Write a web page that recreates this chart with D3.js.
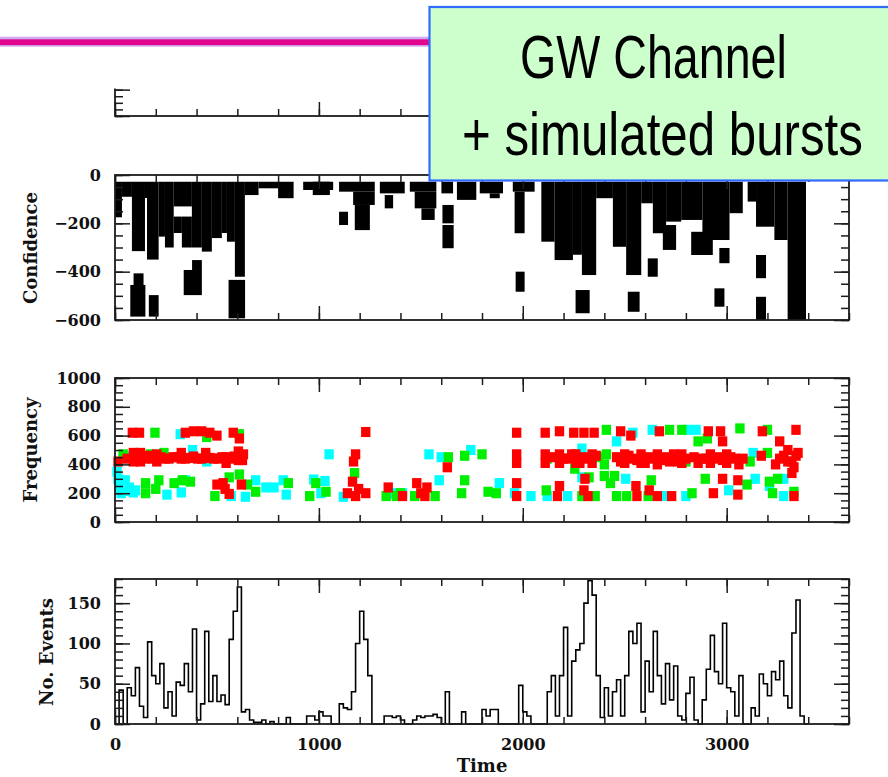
<!DOCTYPE html>
<html>
<head>
<meta charset="utf-8">
<script src="https://cdn.jsdelivr.net/npm/d3@7"></script>
<style>
  body { margin: 0; background: #fff; }
  svg { display: block; }
  .tick text { font-family: 'DejaVu Serif', serif; font-weight: bold; font-size: 16px; fill: #111; }
  .title { font-family: 'DejaVu Serif', serif; font-weight: bold; font-size: 18px; fill: #111; }
  .slide { font-family: 'Liberation Sans', Arial, sans-serif; font-size: 62px; fill: #000; }
</style>
</head>
<body>
<div id="chart"></div>
<script>
// ---- data ----
const timeLabels = [0, 1000, 2000, 3000];
const confLabels = [0, -200, -400, -600];
const freqLabels = [0, 200, 400, 600, 800, 1000];
const eventLabels = [0, 50, 100, 150];
const slideLines = ['GW Channel', '+ simulated bursts'];
const axisTitles = ['Confidence', 'Frequency', 'No. Events', 'Time'];

// confidence clusters: [time start, time end, conf top, conf bottom]
const confBlocks = [
  [0, 34, -28, -175], [34, 83, -28, -90], [83, 147, -28, -315], [147, 157, -28, -95],
  [157, 214, -28, -350], [214, 245, -28, -255], [245, 288, -28, -300], [288, 377, -28, -130],
  [288, 328, -172, -240], [328, 377, -172, -300], [377, 426, -28, -300], [426, 475, -28, -317],
  [475, 524, -28, -261], [524, 549, -28, -240], [549, 588, -28, -276], [588, 637, -28, -421],
  [637, 704, -28, -83], [704, 802, -28, -55], [800, 876, -28, -96],
  [91, 140, -407, -572], [75, 149, -455, -586], [166, 214, -497, -586],
  [378, 426, -352, -393], [337, 426, -393, -497], [557, 638, -434, -593],
  [923, 1070, -28, -62], [970, 1054, -28, -83],
  [1099, 1274, -28, -69], [1168, 1274, -69, -124], [1176, 1250, -124, -228], [1099, 1143, -152, -207],
  [1299, 1421, -28, -76], [1323, 1364, -83, -138],
  [1446, 1576, -28, -69], [1470, 1576, -69, -138], [1503, 1568, -138, -186],
  [1601, 1658, -28, -76], [1606, 1661, -124, -200], [1606, 1661, -207, -303],
  [1677, 1772, -28, -103], [1789, 1903, -28, -76], [1838, 1887, -76, -96],
  [1951, 2058, -28, -69], [1960, 2009, -69, -241], [1965, 2009, -400, -483],
  [2091, 2156, -28, -276], [2156, 2246, -28, -352], [2246, 2290, -28, -330], [2290, 2360, -28, -414],
  [2360, 2442, -28, -96], [2442, 2507, -28, -297], [2507, 2581, -28, -414], [2581, 2638, -28, -117],
  [2638, 2703, -28, -241], [2703, 2777, -28, -193], [2777, 2881, -28, -186], [2881, 3014, -28, -269],
  [3014, 3079, -28, -158], [3103, 3144, -28, -110], [3144, 3234, -28, -214], [3234, 3299, -28, -269],
  [3299, 3389, -28, -600],
  [2259, 2328, -476, -572], [2515, 2573, -483, -566], [2613, 2662, -345, -421], [2687, 2752, -207, -310],
  [2826, 2932, -235, -331], [2964, 3014, -302, -365], [2940, 2989, -469, -545],
  [3144, 3193, -331, -427], [3144, 3193, -504, -600]
];

// frequency tiles: [time, frequency]
const cyanTiles = [
  [15, 300], [50, 290], [20, 240], [55, 215], [90, 205], [30, 200], [70, 240], [100, 220],
  [10, 350], [40, 440], [80, 460], [320, 610],
  [255, 190], [325, 205], [345, 290], [380, 500], [450, 420], [570, 180], [640, 175], [690, 290],
  [740, 240], [780, 240], [825, 290], [840, 190], [975, 295], [1030, 285], [1050, 470], [1010, 200],
  [1120, 175], [1370, 200], [1410, 200], [1540, 470], [1590, 290], [1600, 450], [1745, 500],
  [1885, 270], [1960, 200], [2040, 180], [2120, 180], [2220, 180], [2290, 510], [2290, 310],
  [2460, 560], [2505, 300], [2540, 620], [2635, 640], [2700, 440], [2700, 180], [2800, 180],
  [2810, 640], [2850, 640], [2920, 440], [3010, 220], [3130, 480], [3140, 300], [3210, 250],
  [3280, 300], [3280, 180]
];
const greenTiles = [
  [40, 470], [196, 620], [150, 200], [150, 270], [200, 230], [215, 290], [175, 470], [240, 480],
  [290, 270], [330, 290], [370, 280], [450, 590], [610, 610], [490, 180], [560, 310], [610, 330],
  [650, 260], [690, 210], [850, 270], [955, 180], [985, 270], [1035, 210], [1175, 340], [1330, 180],
  [1380, 180], [1400, 200], [1470, 180], [1570, 180], [1635, 450], [1700, 200], [1715, 290],
  [1715, 460], [1800, 470], [1830, 210], [1870, 200], [2115, 220], [2120, 440], [2255, 370],
  [2290, 180], [2325, 310], [2355, 180], [2370, 450], [2400, 400], [2400, 320], [2410, 470],
  [2410, 640], [2430, 270], [2450, 320], [2460, 180],
  [2510, 180], [2615, 180], [2630, 290], [2720, 640], [2780, 640], [2800, 420], [2830, 200],
  [2860, 560], [2895, 300], [2905, 580], [3065, 650], [3100, 260], [3115, 420], [3200, 640],
  [3200, 480], [3210, 280], [3225, 200], [3250, 300], [3330, 210]
];
const redTiles = [
  [15, 420], [85, 620], [120, 620], [90, 480], [125, 480], [90, 420], [125, 420], [60, 440],
  [105, 450], [145, 440], [185, 440], [225, 450], [265, 440], [305, 450], [345, 440], [385, 455],
  [425, 440], [465, 445], [505, 440], [545, 450], [585, 455], [625, 430],
  [165, 460], [205, 470], [205, 420], [245, 440], [285, 450], [325, 440], [365, 445], [405, 440],
  [445, 450], [485, 440], [525, 450], [565, 440], [605, 430], [630, 470], [605, 490], [325, 480],
  [445, 480], [545, 410], [345, 620], [385, 630], [425, 630], [465, 620], [500, 600], [580, 620],
  [610, 580], [500, 260], [530, 270], [540, 230], [620, 260], [560, 195],
  [1140, 200], [1165, 280], [1170, 420], [1180, 470], [1180, 180], [1195, 230], [1230, 625],
  [1230, 200], [1340, 240], [1410, 180], [1480, 270], [1500, 200], [1530, 240], [1520, 180],
  [1630, 380], [1970, 620], [1970, 470], [1970, 410], [1970, 270], [1970, 180],
  [2110, 620], [2110, 470], [2110, 410], [2180, 630], [2180, 250], [2170, 180],
  [2140, 450], [2200, 440], [2240, 470], [2280, 410], [2320, 440], [2360, 460],
  [2180, 470], [2180, 410], [2220, 440], [2260, 470], [2260, 410], [2300, 450], [2340, 470],
  [2340, 410], [2250, 620], [2300, 620], [2350, 620], [2305, 300], [2300, 220], [2320, 180],
  [2460, 450], [2500, 470], [2500, 410], [2540, 440], [2580, 470], [2580, 410], [2620, 450],
  [2660, 470], [2660, 400], [2700, 450], [2740, 470], [2760, 420], [2800, 440],
  [2480, 420], [2520, 460], [2560, 430], [2600, 410], [2640, 440], [2680, 430], [2720, 420],
  [2780, 410], [2840, 450], [2860, 410],
  [2480, 630], [2530, 600], [2555, 250], [2560, 180], [2620, 220], [2660, 180], [2670, 630],
  [2730, 180], [2780, 470], [2910, 630], [2970, 630], [2980, 560],
  [2880, 440], [2920, 470], [2920, 410], [2960, 450], [3000, 470], [3000, 410], [3040, 440],
  [3060, 400], [2900, 440], [2940, 440], [2980, 430], [3020, 450], [3080, 440],
  [2935, 200], [2980, 300], [3055, 290], [3055, 190],
  [3175, 630], [3170, 460], [3260, 560], [3260, 440], [3300, 420], [3340, 460], [3330, 380],
  [3240, 400], [3280, 460], [3320, 420], [3350, 480], [3300, 500],
  [3340, 640], [3320, 340], [3330, 180]
];

// events per time bin
const binWidth = 20;
const eventCounts = [
  0, 42, 0, 45, 35, 70, 22, 8, 102, 60, 50, 75, 20, 40, 10, 52, 48, 75, 40, 118,
  5, 25, 115, 28, 60, 28, 36, 24, 105, 140, 170, 15, 18, 5, 2,
  2, 5, 0, 3, 0, 0, 0, 8, 0, 0, 0, 0, 10, 10, 5,
  15, 10, 10, 0, 0, 25, 20, 18, 40, 100, 140, 105, 60, 0, 0, 0, 10, 10, 8, 10,
  5, 0, 0, 5, 10, 8, 10, 10, 12, 8, 0, 40, 0, 0, 0, 15, 0, 0, 0, 0,
  18, 10, 18, 18, 0, 0, 0, 0, 0, 48, 15, 10, 0, 0, 0, 0, 40, 60, 10, 60,
  120, 10, 78, 92, 100, 150, 178, 160, 60, 8, 45, 10, 40, 55, 10, 60, 115, 100, 125, 15,
  78, 40, 115, 60, 25, 75, 30, 72, 10, 5, 38, 58, 5, 0, 30, 68, 110, 65, 50, 125,
  45, 40, 10, 60, 0, 0, 20, 10, 62, 50, 35, 65, 55, 78, 35, 20, 113, 154, 10, 0
];

// ---- layout ----
const svgWidth = 888;
const svgHeight = 777;
const ink = '#1c1c1c';
const tileT = 46;
const tileF = 70;

const svg = d3.select('#chart').append('svg')
    .attr('width', svgWidth)
    .attr('height', svgHeight);

const x = d3.scaleLinear().domain([0, 3600]).range([115, 849]);
const yTop = d3.scaleLinear().domain([0, 22]).range([116, -29]);
const yConf = d3.scaleLinear().domain([-600, 0]).range([320, 175]);
const yFreq = d3.scaleLinear().domain([0, 1000]).range([522, 378]);
const yEvt = d3.scaleLinear().domain([0, 180]).range([724, 579]);

const timeMinor = d3.range(0, 3601, 200);
const fmt = d => d < 0 ? '\u2212' + (-d) : String(d);

// inward ticks on all four sides plus the frame
const drawFrame = function(y, yMajor, yMinor) {
  const [bottom, top] = y.range();
  const g = svg.append('g').attr('color', ink);
  const tick = (axis, vals, size, tr) => {
    g.append('g').attr('transform', tr)
        .call(axis.tickValues(vals).tickSize(-size).tickFormat(''))
        .call(s => s.select('.domain').remove())
        .selectAll('line').attr('stroke-width', 1.5);
  };
  tick(d3.axisBottom(x), timeMinor, 7, `translate(0,${bottom})`);
  tick(d3.axisBottom(x), timeLabels, 14, `translate(0,${bottom})`);
  tick(d3.axisTop(x), timeMinor, 7, `translate(0,${top})`);
  tick(d3.axisTop(x), timeLabels, 14, `translate(0,${top})`);
  tick(d3.axisLeft(y), yMinor, 8, `translate(${x.range()[0]},0)`);
  tick(d3.axisLeft(y), yMajor, 15, `translate(${x.range()[0]},0)`);
  tick(d3.axisRight(y), yMinor, 8, `translate(${x.range()[1]},0)`);
  tick(d3.axisRight(y), yMajor, 15, `translate(${x.range()[1]},0)`);
  g.append('rect')
      .attr('x', x.range()[0]).attr('y', top)
      .attr('width', x.range()[1] - x.range()[0]).attr('height', bottom - top)
      .attr('fill', 'none').attr('stroke', ink).attr('stroke-width', 1.8);
};

const drawYLabels = function(y, vals) {
  svg.append('g')
      .attr('transform', `translate(${x.range()[0]},0)`)
      .call(d3.axisLeft(y).tickValues(vals).tickSize(0).tickPadding(14).tickFormat(fmt))
      .call(s => s.select('.domain').remove());
};

const drawYTitle = function(text, bx, cy) {
  svg.append('text').attr('class', 'title')
      .attr('transform', `translate(${bx},${cy}) rotate(-90)`)
      .attr('text-anchor', 'middle')
      .text(text);
};

// top panel (mostly hidden)
drawFrame(yTop, d3.range(0, 23, 4), d3.range(0, 23, 1));

// confidence
svg.append('g').selectAll('rect')
    .data(confBlocks)
    .join('rect')
    .attr('x', d => x(d[0]))
    .attr('width', d => x(d[1]) - x(d[0]))
    .attr('y', d => yConf(d[2]))
    .attr('height', d => yConf(d[3]) - yConf(d[2]))
    .attr('fill', '#000');
drawFrame(yConf, confLabels, d3.range(-600, 1, 50));
drawYLabels(yConf, confLabels);
drawYTitle(axisTitles[0], 37, 248);

// frequency
const tileGroup = svg.append('g');
[[cyanTiles, '#00ffff'], [greenTiles, '#00ee00'], [redTiles, '#ff0000']].forEach(([tiles, color]) => {
  tileGroup.append('g').selectAll('rect')
      .data(tiles)
      .join('rect')
      .attr('x', d => x(d[0] - tileT / 2))
      .attr('width', x(tileT) - x(0))
      .attr('y', d => yFreq(d[1] + tileF / 2))
      .attr('height', yFreq(0) - yFreq(tileF))
      .attr('fill', color);
});
drawFrame(yFreq, freqLabels, d3.range(0, 1001, 50));
drawYLabels(yFreq, freqLabels);
drawYTitle(axisTitles[1], 37, 450);

// number of events histogram
const histPts = eventCounts.map((v, k) => [k * binWidth, v]);
histPts.push([eventCounts.length * binWidth, 0]);
svg.append('path')
    .datum(histPts)
    .attr('fill', 'none')
    .attr('stroke', '#000')
    .attr('stroke-width', 1.6)
    .attr('d', d3.line().x(d => x(d[0])).y(d => yEvt(d[1])).curve(d3.curveStepAfter));
drawFrame(yEvt, eventLabels, d3.range(0, 181, 10));
drawYLabels(yEvt, eventLabels);
drawYTitle(axisTitles[2], 53, 652);

svg.append('g')
    .attr('transform', `translate(0,${yEvt.range()[0]})`)
    .call(d3.axisBottom(x).tickValues(timeLabels).tickSize(0).tickPadding(15).tickFormat(fmt))
    .call(s => s.select('.domain').remove());
svg.append('text').attr('class', 'title')
    .attr('x', (x.range()[0] + x.range()[1]) / 2).attr('y', 772)
    .attr('text-anchor', 'middle')
    .text(axisTitles[3]);

// slide overlay: header cover, rule and title box
svg.append('rect').attr('x', 0).attr('y', 0).attr('width', svgWidth).attr('height', 88.5).attr('fill', '#fff');
svg.append('rect').attr('x', 0).attr('y', 36.7).attr('width', 430).attr('height', 10).attr('fill', '#cfaaf2');
svg.append('rect').attr('x', 0).attr('y', 39.3).attr('width', 430).attr('height', 5.8).attr('fill', '#e0058c');

svg.append('rect')
    .attr('x', 429.5).attr('y', 7).attr('width', 480).attr('height', 173.5)
    .attr('fill', '#ccffcc').attr('stroke', '#2f6cff').attr('stroke-width', 2.2);

// narrow title lines: squeeze each line horizontally to its width in the picture
const slidePos = [[520, 78, 267], [462, 155, 401]];
svg.selectAll('text.slide')
    .data(slideLines)
    .join('text')
    .attr('class', 'slide')
    .text(d => d)
    .attr('transform', function(d, i) {
      const [sx, sy, w] = slidePos[i];
      const natural = this.getComputedTextLength();
      return `translate(${sx},${sy}) scale(${w / natural},1)`;
    });
</script>
</body>
</html>
